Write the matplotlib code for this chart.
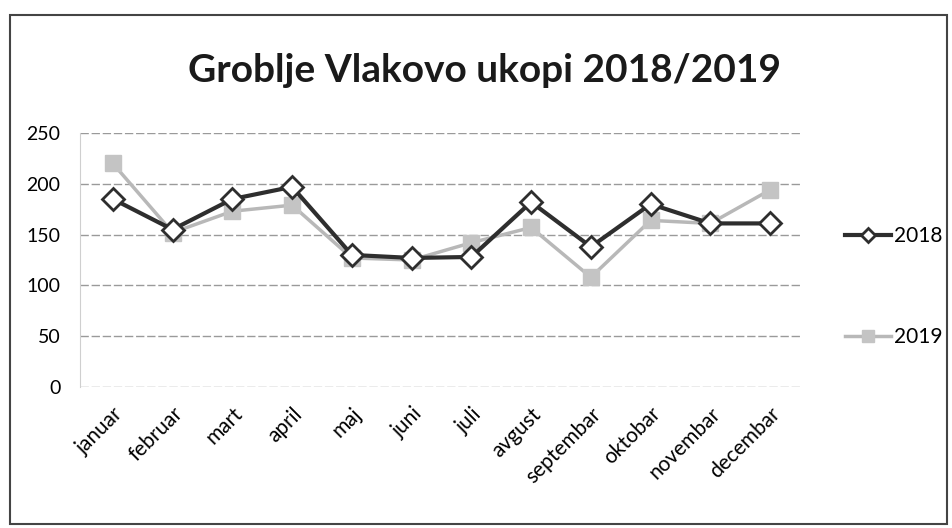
import matplotlib
matplotlib.use("Agg")
import matplotlib.pyplot as plt
from matplotlib.lines import Line2D
from matplotlib.patches import Rectangle

months = ["januar", "februar", "mart", "april", "maj", "juni", "juli",
          "avgust", "septembar", "oktobar", "novembar", "decembar"]
v2018 = [185, 155, 185, 197, 130, 127, 128, 182, 138, 180, 161, 161]
v2019 = [220, 152, 173, 179, 127, 125, 142, 157, 108, 164, 161, 194]
yticks = [0, 50, 100, 150, 200, 250]

plt.rcParams['font.family'] = ['Lato', 'DejaVu Sans']

fig = plt.figure(figsize=(9.52, 5.28), dpi=100)
ax = fig.add_axes([80/952, (528-387)/528, 720/952, 254/528])

x = list(range(len(months)))
ax.plot(x, v2019, color="#b8b8b8", lw=2.5, marker="s", ms=11,
        mfc="#c4c4c4", mec="#c4c4c4", zorder=3, label="2019")
ax.plot(x, v2018, color="#2e2e2e", lw=3, marker="D", ms=11,
        mfc="white", mec="#2e2e2e", mew=2, zorder=4, label="2018")

ax.set_ylim(0, 250)
ax.set_xlim(-0.55, 11.5)
ax.set_yticks(yticks)
ax.set_yticklabels([str(t) for t in yticks], fontsize=14)
ax.set_xticks(x)
ax.set_xticklabels(months, rotation=45, ha="right", rotation_mode="anchor", fontsize=15)
ax.tick_params(axis="y", length=0, pad=14)
ax.tick_params(axis="x", length=0, pad=12)
ax.grid(axis="y", color="#9a9a9a", lw=1, ls=(0, (6, 2)))
ax.set_axisbelow(True)
for s in ["top", "right", "bottom"]:
    ax.spines[s].set_visible(False)
ax.spines["left"].set_color("#cfcfcf")

fig.text(485/952, 1 - 70/528, "Groblje Vlakovo ukopi 2018/2019", ha="center", va="center",
         fontsize=28, fontweight="bold", color="#1a1a1a")

h18 = Line2D([], [], color="#2e2e2e", lw=3, marker="D", ms=7, mfc="white", mec="#2e2e2e", mew=2)
h19 = Line2D([], [], color="#b8b8b8", lw=2.5, marker="s", ms=9, mfc="#c4c4c4", mec="#c4c4c4")
for h, lab, yy in [(h18, "2018", 236), (h19, "2019", 337)]:
    fig.legend([h], [lab], loc="center left", bbox_to_anchor=(845/952, 1 - yy/528),
               frameon=False, fontsize=15, handlelength=2.2, handletextpad=0.15,
               borderaxespad=0, borderpad=0)

fig.patches.append(Rectangle((10/952, 4/528), 937/952, 1 - 19/528,
                             transform=fig.transFigure, fill=False, ec="#444444", lw=1.5))

fig.savefig("out.png", dpi=100)
